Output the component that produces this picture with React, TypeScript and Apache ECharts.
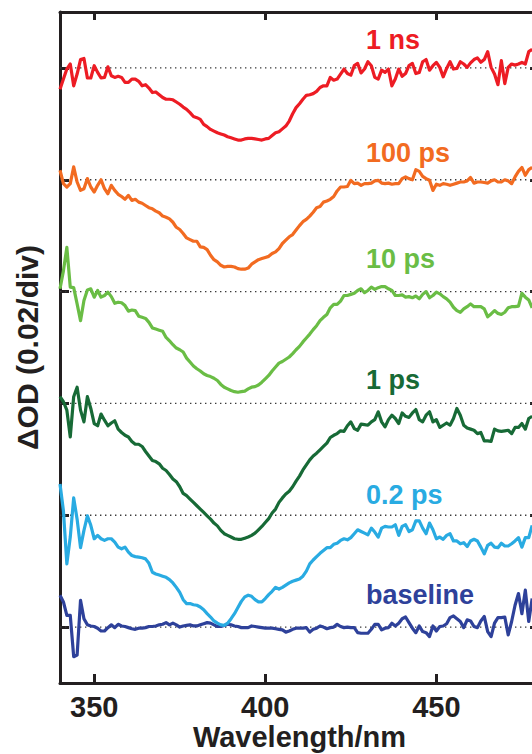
import React, { useEffect, useRef } from "react";
import * as echarts from "echarts";

// Wavelength grid (nm): first sample and spacing
const WL_START = 340;
const WL_STEP = 1;

// Transient spectra, ΔOD in mOD (0.02 ΔOD = 20 mOD per division), 340..478 nm
const BASELINE = [
  5.7, 4.5, 2.1, 2.1, -5.3, -5.0, 4.8, 1.5, 0.4, 0.2,
  0.1, -0.2, -0.7, -0.7, -0.1, 0.4, -0.1, 0.5, 0.2, 0.1,
  -0.1, -0.3, -0.4, -0.2, -0.2, -0.1, 0.1, 0.1, 0.2, 0.4,
  0.5, 0.8, 0.4, 0.7, 0.4, 0.0, 0.2, 0.3, 0.4, 0.2,
  0.2, 0.4, 0.6, 0.8, 0.7, 0.4, 0.1, 0.1, 0.3, 0.5,
  0.4, 0.2, 0.1, -0.1, -0.1, -0.1, 0.2, 0.1, 0.0, -0.1,
  -0.2, -0.2, -0.2, -0.3, -0.4, -0.5, -0.9, -0.7, -0.4, -0.2,
  -0.2, -0.2, -0.1, -0.9, -0.4, -0.2, 0.2, 0.0, -0.3, -0.1,
  0.0, 0.5, 0.1, -0.1, 0.0, -0.1, -0.1, -1.0, -1.1, -1.1,
  -1.1, -0.4, 0.5, 0.5, -0.5, -0.2, -0.1, 0.7, 0.2, 0.7,
  1.5, 1.8, 0.8, -0.2, -1.0, 0.2, -0.8, -1.0, -1.7, 0.2,
  -0.7, 0.1, 0.2, 0.6, 1.7, 2.0, 1.5, 1.0, -0.1, 1.3,
  1.1, 0.1, -0.1, 1.1, 1.9, -0.8, -1.7, 0.7, 1.7, 1.7,
  1.8, -1.4, 1.0, 3.9, 6.0, 2.4, 6.6, 1.0, 5.1,
];

const PS02 = [
  5.6, 0.8, -8.7, -3.9, 3.1, -0.7, -5.8, -2.7, -0.1, -1.8,
  -4.2, -3.6, -4.2, -4.5, -4.2, -4.2, -4.8, -5.7, -6.0, -5.7,
  -6.6, -7.2, -7.4, -7.5, -7.6, -7.8, -8.6, -10.2, -10.5, -10.7,
  -10.9, -11.1, -11.5, -12.1, -12.9, -13.8, -15.1, -15.8, -15.8, -16.0,
  -16.1, -16.4, -16.9, -17.6, -18.2, -18.9, -19.3, -19.6, -19.7, -19.3,
  -18.5, -17.6, -16.5, -15.4, -14.6, -14.3, -14.5, -15.1, -15.5, -15.5,
  -14.9, -14.2, -13.6, -12.9, -13.2, -12.9, -12.5, -12.1, -11.8, -11.6,
  -11.4, -10.9, -10.0, -8.7, -8.0, -7.4, -6.8, -6.3, -5.8, -5.8,
  -5.2, -5.0, -4.5, -4.2, -4.4, -4.0, -3.3, -2.6, -2.9, -3.2,
  -3.5, -2.3, -3.0, -3.9, -2.3, -2.0, -2.1, -2.1, -1.7, -3.6,
  -2.0, -1.7, -2.9, -2.6, -1.0, -1.0, -2.3, -3.3, -1.4, -2.6,
  -4.2, -3.9, -4.3, -3.6, -3.3, -4.6, -4.6, -5.1, -4.9, -5.6,
  -4.6, -4.3, -4.6, -5.7, -6.9, -5.4, -5.0, -5.7, -5.8, -5.0,
  -5.5, -5.5, -5.1, -4.6, -4.0, -5.7, -4.0, -4.0, -1.8,
];

const PS1 = [
  1.2, 0.3, -1.2, -6.0, 1.2, 2.9, -1.2, -3.3, 1.2, -0.9,
  -3.6, -4.0, -1.9, -3.0, -4.0, -3.5, -3.1, -4.6, -5.2, -5.7,
  -6.0, -6.8, -7.3, -7.3, -7.7, -8.6, -9.4, -10.2, -10.4, -10.8,
  -11.6, -12.0, -12.7, -13.5, -14.0, -14.9, -16.1, -16.5, -17.1, -17.7,
  -18.3, -18.9, -19.5, -20.1, -20.7, -21.4, -21.9, -22.7, -23.3, -23.6,
  -23.9, -24.2, -24.3, -24.3, -24.1, -23.9, -23.6, -23.2, -22.6, -22.0,
  -21.3, -20.6, -19.6, -18.9, -17.7, -16.9, -16.2, -15.7, -14.9, -13.9,
  -13.0, -11.9, -11.0, -10.1, -9.4, -8.9, -8.3, -7.7, -7.1, -6.1,
  -5.7, -5.4, -4.9, -5.0, -4.0, -3.3, -4.5, -4.8, -3.7, -3.8,
  -3.9, -3.3, -2.9, -1.5, -3.3, -4.2, -2.9, -2.1, -2.7, -3.6,
  -1.7, -2.3, -2.5, -1.7, -1.1, -2.9, -3.3, -2.1, -1.5, -3.3,
  -2.9, -4.3, -3.9, -3.5, -3.9, -2.7, -0.9, -2.1, -3.9, -4.4,
  -4.6, -4.8, -5.4, -5.2, -6.7, -6.7, -6.8, -4.6, -4.9, -5.0,
  -4.9, -4.8, -5.4, -4.3, -4.3, -3.6, -4.6, -2.7, -2.3,
];

const PS10 = [
  0.5, 3.7, 7.9, 0.8, 0.7, -2.2, -5.2, -1.6, 0.3, 0.5,
  -1.0, 0.2, -1.0, -0.7, -0.1, -0.9, -2.1, -1.9, -2.0, -2.5,
  -3.5, -3.3, -3.4, -4.4, -4.6, -4.8, -5.5, -6.5, -6.7, -6.9,
  -7.1, -8.2, -8.8, -9.5, -10.1, -10.4, -10.8, -11.9, -12.6, -13.3,
  -13.8, -14.2, -14.7, -15.0, -15.2, -15.5, -15.9, -16.6, -17.1, -17.4,
  -17.7, -17.9, -18.0, -17.9, -17.8, -17.4, -17.1, -17.0, -16.7, -16.2,
  -15.6, -15.0, -14.2, -13.5, -12.8, -12.5, -12.1, -11.7, -11.1, -10.4,
  -9.8, -9.0, -8.3, -7.6, -6.8, -6.1, -5.2, -4.6, -4.1, -2.9,
  -2.3, -2.3, -1.7, -0.7, -0.7, -0.5, -0.3, 0.2, 0.5, -0.2,
  0.2, 0.8, 0.4, 0.7, 0.9, 0.9, 0.5, 0.2, -0.7, -0.7,
  -0.6, -1.0, -0.9, -1.1, -0.8, -1.3, -0.5, 0.0, -1.1, -0.7,
  -0.1, -0.4, -0.9, -1.3, -1.9, -2.8, -3.4, -3.7, -3.1, -2.7,
  -2.2, -2.7, -2.7, -2.7, -3.1, -4.5, -4.0, -3.4, -3.9, -4.1,
  -3.7, -2.9, -2.7, -2.7, -2.6, -0.3, -1.0, -1.5, -2.9,
];

const PS100 = [
  1.7, -0.7, -1.3, -0.7, 2.3, -0.4, -1.9, -1.6, 0.2, -1.3,
  -2.2, -1.0, 0.0, -1.6, -2.5, -1.0, -1.9, -2.6, -3.0, -3.5,
  -2.8, -3.7, -3.5, -4.0, -4.2, -4.6, -5.0, -5.2, -5.6, -5.9,
  -6.5, -6.7, -7.0, -7.6, -8.5, -8.9, -9.6, -10.4, -10.7, -11.0,
  -11.0, -12.0, -12.1, -12.5, -13.5, -14.3, -14.7, -15.3, -15.6, -15.5,
  -15.5, -15.6, -15.9, -16.0, -16.0, -15.8, -15.1, -14.7, -14.3, -14.1,
  -13.9, -13.7, -13.2, -12.9, -12.3, -11.4, -10.8, -10.2, -9.8, -9.0,
  -8.2, -7.5, -7.1, -6.5, -5.8, -5.0, -4.8, -4.0, -3.8, -3.5,
  -3.0, -2.0, -1.3, -1.3, -1.2, -0.1, -0.7, -0.6, -1.0, -0.7,
  -0.7, -0.6, -0.2, -0.1, -0.6, -0.7, -0.6, -0.8, -0.7, -0.7,
  0.2, 0.5, 0.2, 0.0, 1.8, 1.5, 0.6, 0.2, -0.1, -1.9,
  -0.8, -1.0, -0.7, -0.8, -1.0, -0.8, -0.6, -0.4, -0.4, -0.2,
  0.4, -0.6, -0.4, -0.4, -0.5, -0.6, -0.2, 0.0, -0.4, -0.4,
  0.0, -0.2, -0.7, 0.5, 1.5, 2.2, 0.8, 1.8, 2.2,
];

const NS1 = [
  -3.8, -2.0, -0.2, 0.7, -3.2, -1.1, 1.5, 1.7, -1.8, -1.8,
  0.4, -0.8, -1.8, -1.7, 0.2, -1.4, -1.7, -1.5, -1.7, -2.6,
  -2.6, -2.0, -2.0, -2.4, -3.2, -3.0, -3.6, -4.4, -4.3, -4.8,
  -5.3, -5.6, -5.6, -5.7, -6.1, -6.5, -7.0, -7.4, -8.0, -8.7,
  -8.9, -9.2, -10.1, -10.5, -11.0, -11.3, -11.6, -11.8, -12.0, -12.3,
  -12.5, -12.7, -12.9, -12.9, -12.7, -12.6, -12.6, -12.7, -12.8, -12.9,
  -12.7, -12.6, -12.1, -11.6, -11.4, -10.9, -10.4, -9.5, -8.2, -7.1,
  -6.4, -5.6, -4.9, -4.8, -4.6, -4.2, -3.5, -3.2, -3.2, -1.7,
  -2.2, -2.0, -1.1, -0.2, -1.0, -1.3, 0.4, 0.8, -0.9, -0.2,
  1.1, 0.4, -1.7, -2.0, -0.4, -0.8, -0.2, -3.2, -2.0, -0.2,
  -1.5, -1.0, 0.4, 0.8, -1.0, -0.8, 1.1, 1.5, -0.4, 0.4,
  1.0, 0.1, -1.6, -0.1, 1.1, -0.2, -0.1, 1.1, 0.7, 0.1,
  0.9, 1.5, 1.8, 1.0, 1.5, 2.9, 0.1, -1.1, -3.0, 1.3,
  -2.8, 0.1, 0.7, 0.5, 0.7, 1.0, 0.7, 2.9, 3.3,
];

// Series, from bottom to top
const SERIES_NAMES = ["baseline", "0.2 ps", "1 ps", "10 ps", "100 ps", "1 ns"];
const SERIES_VALUES = [BASELINE, PS02, PS1, PS10, PS100, NS1];
const OFFSETS = [0, 20, 40, 60, 80, 100]; // vertical offsets, mOD
const COLORS = ["#2E419A", "#29ABE2", "#176A36", "#6ABD45", "#F26B21", "#ED1C24"];

// Axis ticks
const X_MIN = 340;
const X_MAX = 480;
const X_TICKS = [350, 400, 450];
const Y_MIN = -10;
const Y_MAX = 110;

// Label placement (pixels)
const LABEL_X = 366;
const LABEL_Y = [595, 495, 380, 259, 153, 40];

const FONT_FAMILY = '"Liberation Sans", Arial, Helvetica, sans-serif';
const INK = "#231F20";

export default function App() {
  const ref = useRef<HTMLDivElement>(null);

  useEffect(() => {
    document.documentElement.style.overflow = "hidden";
    document.body.style.overflow = "hidden";
    document.body.style.margin = "0";
    if (!ref.current) return;
    const chart = echarts.init(ref.current, undefined, { renderer: "svg" });

    const wavelengths = NS1.map((_, i) => WL_START + i * WL_STEP);

    const dotted = OFFSETS.map((off) => ({
      type: "line",
      data: [
        [X_MIN, off],
        [X_MAX, off],
      ],
      symbol: "none",
      silent: true,
      z: 1,
      lineStyle: { color: "#3a3a3a", width: 1.4, type: [1.4, 3.6] },
    }));

    const curves = SERIES_VALUES.map((vals, i) => ({
      type: "line",
      name: SERIES_NAMES[i],
      data: vals.map((v, j) => [wavelengths[j], v + OFFSETS[i]]),
      symbol: "none",
      smooth: false,
      z: 2,
      lineStyle: { color: COLORS[i], width: 3.2, join: "round" },
    }));

    const tickStyle = { color: INK, width: 3 };
    const yTickValues = OFFSETS.slice();

    chart.setOption({
      animation: false,
      grid: {
        left: 60,
        top: 12,
        width: 479,
        height: 671,
        containLabel: false,
        outerBoundsMode: "none",
      },
      xAxis: [
        {
          type: "value",
          position: "bottom",
          min: X_MIN,
          max: X_MAX,
          axisLine: { show: true, onZero: false, lineStyle: tickStyle },
          axisTick: {
            show: true,
            inside: true,
            length: 9,
            lineStyle: tickStyle,
            customValues: X_TICKS,
          },
          axisLabel: {
            show: true,
            customValues: X_TICKS,
            margin: 13,
            color: INK,
            fontSize: 29,
            lineHeight: 22,
            fontWeight: "bold",
            fontFamily: FONT_FAMILY,
          },
          splitLine: { show: false },
          name: "Wavelength/nm",
          nameLocation: "middle",
          nameGap: 41,
          nameMoveOverlap: false,
          nameTextStyle: {
            color: INK,
            fontSize: 29,
            lineHeight: 26,
            fontWeight: "bold",
            fontFamily: FONT_FAMILY,
          },
        },
        {
          type: "value",
          position: "top",
          min: X_MIN,
          max: X_MAX,
          axisLine: { show: true, onZero: false, lineStyle: tickStyle },
          axisTick: {
            show: true,
            inside: true,
            length: 8,
            lineStyle: tickStyle,
            customValues: X_TICKS,
          },
          axisLabel: { show: false },
          splitLine: { show: false },
        },
      ],
      yAxis: [
        {
          type: "value",
          position: "left",
          min: Y_MIN,
          max: Y_MAX,
          axisLine: { show: true, onZero: false, lineStyle: tickStyle },
          axisTick: {
            show: true,
            inside: true,
            length: 9,
            lineStyle: tickStyle,
            customValues: yTickValues,
          },
          axisLabel: { show: false },
          splitLine: { show: false },
          name: "ΔOD (0.02/div)",
          nameLocation: "middle",
          nameRotate: 90,
          nameGap: 18,
          nameMoveOverlap: false,
          nameTextStyle: {
            color: INK,
            fontSize: 30,
            fontWeight: "bold",
            fontFamily: FONT_FAMILY,
          },
        },
        {
          type: "value",
          position: "right",
          min: Y_MIN,
          max: Y_MAX,
          axisLine: { show: true, onZero: false, lineStyle: tickStyle },
          axisTick: {
            show: true,
            inside: true,
            length: 9,
            lineStyle: tickStyle,
            customValues: yTickValues,
          },
          axisLabel: { show: false },
          splitLine: { show: false },
        },
      ],
      graphic: SERIES_NAMES.map((t, i) => ({
        type: "text",
        x: LABEL_X,
        y: LABEL_Y[i],
        z: 10,
        style: {
          text: t,
          fill: COLORS[i],
          font: `bold 27px ${FONT_FAMILY}`,
          textAlign: "left",
          textVerticalAlign: "middle",
        },
      })),
      series: [...dotted, ...curves],
    });

    return () => chart.dispose();
  }, []);

  return (
    <div
      ref={ref}
      style={{ position: "absolute", left: 0, top: 0, width: 545, height: 754 }}
    />
  );
}
